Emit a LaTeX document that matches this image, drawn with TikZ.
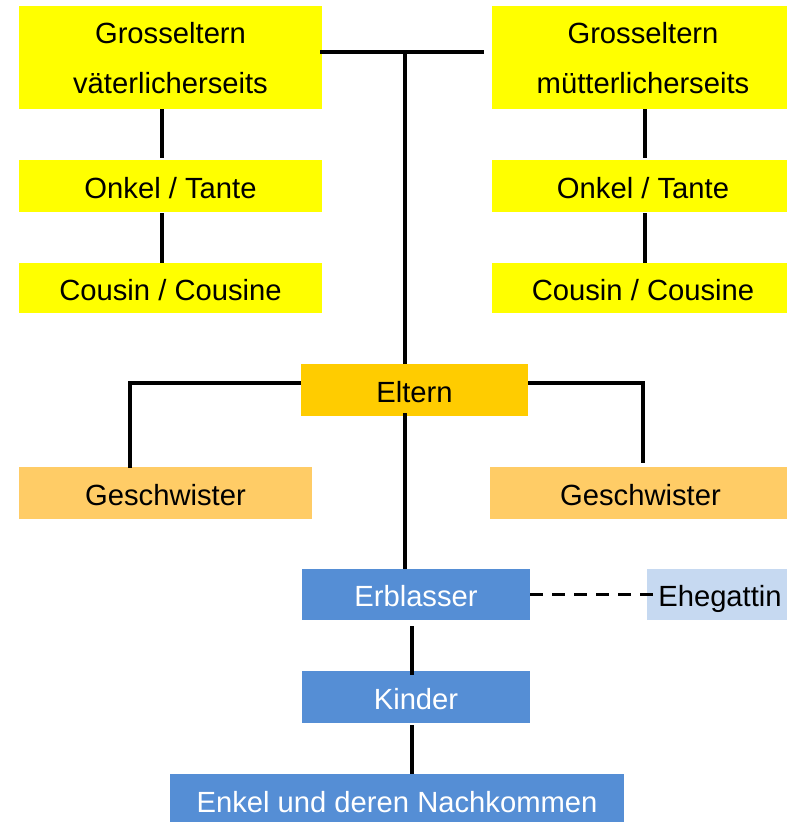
\documentclass[tikz,border=0pt]{standalone}
\usepackage{fontspec}
\setmainfont{Liberation Sans}
\definecolor{gyellow}{HTML}{FFFF00}
\definecolor{elt}{HTML}{FFCC00}
\definecolor{gesch}{HTML}{FFCC66}
\definecolor{blueb}{HTML}{558ED5}
\definecolor{lightb}{HTML}{C6D9F1}
\begin{document}
\begin{tikzpicture}[x=1pt,y=-1pt,
  box/.style={inner sep=0pt, outer sep=0pt, align=center,
    font=\fontsize{29.2}{50}\selectfont},
  two/.style={box, text depth=-4pt},
  one/.style={box, text height=24pt, text depth=0pt},
  conn/.style={line width=4.6pt, line join=miter},
  dashconn/.style={line width=3pt, dash pattern=on 13pt off 9pt}]
\useasboundingbox (0,0) rectangle (787,822);
% top yellow boxes
\node[two, fill=gyellow, minimum width=303pt, minimum height=103pt] (gv) at (170.5,57.5) {Grosseltern\\väterlicherseits};
\node[two, fill=gyellow, minimum width=302pt, minimum height=103pt] (gm) at (643,57.5) {Grosseltern\\mütterlicherseits};
\node[one, fill=gyellow, minimum width=303pt, minimum height=52pt] (ov) at (170.5,186) {Onkel / Tante};
\node[one, fill=gyellow, minimum width=302pt, minimum height=52pt] (om) at (643,186) {Onkel / Tante};
\node[one, fill=gyellow, minimum width=303pt, minimum height=50pt] (cv) at (170.5,288) {Cousin / Cousine};
\node[one, fill=gyellow, minimum width=302pt, minimum height=50pt] (cm) at (643,288) {Cousin / Cousine};
% parents and siblings
\node[one, fill=elt, minimum width=227pt, minimum height=52pt] (el) at (414.5,390) {Eltern};
\node[one, fill=gesch, minimum width=293pt, minimum height=52pt] (gl) at (165.5,493) {Geschwister};
\node[one, fill=gesch, minimum width=301pt, minimum height=52pt] (gr) at (640.5,493) {Geschwister};
% descendants
\node[one, fill=blueb, text=white, minimum width=228pt, minimum height=51pt] (eb) at (416,594.5) {Erblasser};
\node[one, fill=lightb, minimum width=146pt, minimum height=51pt] (eh) at (720,594.5) {Ehegattin};
\node[one, fill=blueb, text=white, minimum width=228pt, minimum height=52pt] (ki) at (416,697) {Kinder};
\node[one, fill=blueb, text=white, minimum width=454pt, minimum height=52pt] (en) at (397,800) {Enkel und deren Nachkommen};
% helper coordinates
\coordinate (lx) at (162,0);
\coordinate (rx) at (645,0);
\coordinate (mx) at (405,0);
\coordinate (kx) at (412,0);
\coordinate (ty) at (0,52);
\coordinate (ey) at (0,383);
\coordinate (gxl) at (130,0);
\coordinate (gxr) at (643,0);
% connectors left column
\draw[conn] (gv.south -| lx) -- ([yshift=2pt]ov.north -| lx);
\draw[conn] ([yshift=-1pt]ov.south -| lx) -- (cv.north -| lx);
% connectors right column
\draw[conn] (gm.south -| rx) -- ([yshift=2pt]om.north -| rx);
\draw[conn] ([yshift=-1pt]om.south -| rx) -- (cm.north -| rx);
% grandparents link and stem
\draw[conn] ([xshift=-2pt]gv.east |- ty) -- ([xshift=-8pt]gm.west |- ty);
\draw[conn] (mx |- ty) -- (el.north -| mx);
% parents to siblings
\draw[conn] (el.west |- ey) -| ([yshift=-1pt]gl.north -| gxl);
\draw[conn] (el.east |- ey) -| ([yshift=4pt]gr.north -| gxr);
% parents to Erblasser
\draw[conn] ([yshift=3pt]el.south -| mx) -- (eb.north -| mx);
% Erblasser to Ehegattin
\draw[dashconn] (eb.east) -- ([xshift=13pt]eh.west);
% descendants
\draw[conn] ([yshift=-6pt]eb.south -| kx) -- ([yshift=-4pt]ki.north -| kx);
\draw[conn] ([yshift=-2pt]ki.south -| kx) -- (en.north -| kx);
\end{tikzpicture}
\end{document}
